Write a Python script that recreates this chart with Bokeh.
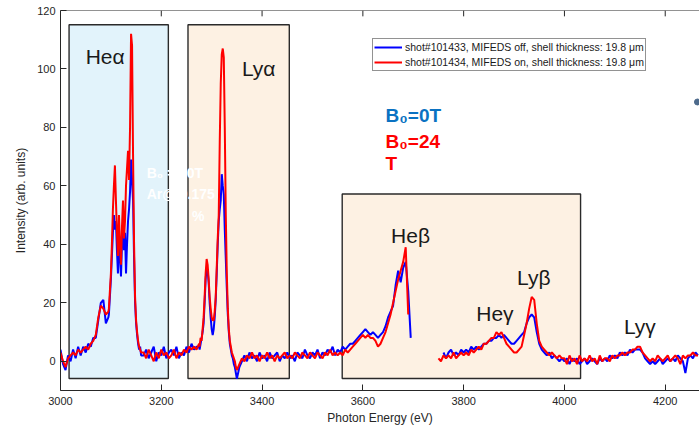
import numpy as np
from bokeh.plotting import figure
from bokeh.models import Range1d, Label, Legend, LegendItem, FixedTicker, ColumnDataSource, Span
from bokeh.embed import file_html
from bokeh.resources import INLINE

# ---------------- data ----------------
X_TICKS = [3000, 3200, 3400, 3600, 3800, 4000, 4200]
Y_TICKS = [0, 20, 40, 60, 80, 100, 120]

# energy grids of the spectrum segments (eV)
E_A = np.arange(3000, 3096, 5)
E_B = np.arange(3096, 3161, 2)
E_C = np.arange(3165, 3276, 5)
E_D = np.arange(3276, 3351, 2)
E_E = np.arange(3355, 3696, 5)
E_F = np.arange(3750, 4266, 5)

nan = float("nan")

RED_A = [3, 0, -2, 1, 2, 3, 2, 4, 3, 4, 5, 4, 6, 7, 9, 15, 19, 18, 16, 17]
BLUE_A = [4, -1, -3, 2, 0, 4, 1, 5, 2, 5, 3, 6, 5, 8, 8, 14, 20, 21, 13, 15]

RED_B = [18, 24, 30, 40, 52, 60, 67, 55, 44, 36, 50, 40, 33, 46, 55, 42, 48, 60, 66, 72,
         62, 80, 112, 108, 70, 40, 22, 14, 10, 7, 5, 4, 3]
BLUE_B = [16, 22, 28, 36, 44, 50, 45, 48, 38, 30, 42, 36, 29, 40, 45, 38, 44, 30, 40, 48,
          52, 58, 69, 62, 55, 35, 20, 13, 9, 6, 4, 5, 2]

RED_C = [3, 1, 4, 2, 0, 3, 1, 4, 2, 3, 1, 2, 4, 1, 3, 2, 4, 3, 5, 4, 5, 4, 6]
BLUE_C = [2, 4, 1, 3, 5, 0, 3, 2, 5, 1, 3, 4, 2, 5, 1, 3, 2, 5, 3, 6, 4, 5, 5]

RED_D = [5, 8, 7, 11, 15, 22, 30, 35, 33, 28, 22, 18, 15, 14, 14, 17, 22, 32, 42, 50,
         75, 95, 105, 107, 104, 80, 50, 30, 18, 11, 7, 5, 3, 2, 1, 0, -2, -3]
BLUE_D = [4, 6, 8, 10, 13, 20, 28, 32, 31, 27, 20, 15, 11, 9, 11, 15, 21, 30, 40, 48,
          52, 55, 64, 60, 57, 45, 35, 25, 16, 10, 6, 4, 2, 1, -1, -2, -4, -6]

RED_E = [-1, 1, 0, 2, 1, 3, 1, 2, 0, 2,
         1, 3, 1, 2, 0, 2, 1, 2, 3, 1,
         2, 1, 3, 2, 1, 3, 2, 1, 3, 2,
         1, 3, 2, 1, 3, 2, 4, 2, 3, 2,
         3, 2, 4, 3, 4, 5, 6, 7, 8, 9,
         8, 9, 8, 8, 7, 5, 6, 8, 10, 13,
         16, 20, 24, 28, 31, 34, 39, 16, nan]
BLUE_E = [-2, 0, 2, 0, 3, 1, 2, 0, 3, 1,
          2, 0, 3, 1, 2, 3, 0, 2, 1, 3,
          1, 2, 0, 3, 2, 1, 4, 2, 1, 3,
          2, 4, 1, 3, 2, 4, 3, 5, 2, 4,
          3, 5, 4, 5, 6, 6, 7, 8, 9, 10,
          11, 10, 9, 10, 9, 8, 9, 10, 12, 15,
          17, 19, 26, 31, 27, 32, 34, 24, 8]

RED_F = [1, 0, 2, 1, 2, 1, 3, 1, 2, 3,
         2, 3, 2, 4, 3, 4, 5, 4, 6, 6,
         7, 8, 8, 10, 9, 10, 8, 6, 5, 4,
         3, 3, 4, 5, 9, 13, 18, 22, 21, 13,
         7, 5, 4, 3, 2, 3, 2, 1, 2, 1,
         1, -1, 2, 0, 1, -1, 2, 0, 1, 0,
         2, 0, 1, -1, 2, 0, 1, 1, 0, 2,
         1, 2, 2, 3, 2, 3, 3, 4, 4, 5,
         5, 3, 2, 1, 0, 1, 0, 2, 1, 0,
         1, 2, 0, 1, 2, 1, -1, 2, 1, 2,
         2, 3, 2, 2]
BLUE_F = [nan, nan, 3, 1, 3, 4, 2, 3, 2, 4,
          3, 4, 3, 5, 4, 5, 4, 5, 6, 6,
          7, 7, 8, 8, 9, 8, 9, 8, 7, 6,
          6, 7, 8, 9, 10, 13, 15, 16, 15, 10,
          6, 4, 3, 2, 3, 1, 2, 1, 0, 1,
          0, 1, -1, 1, 0, 1, -1, 0, 1, -1,
          0, 1, 0, -1, 1, 0, 1, 0, 2, 1,
          2, 1, 3, 2, 3, 2, 4, 3, 4, 4,
          4, 3, 1, 0, -1, 0, -1, 0, 1, -1,
          0, 1, 0, 1, 0, 2, 1, 0, -4, 1,
          2, 1, 3, 2]

SERIES_LABELS = ["shot#101433, MIFEDS off, shell thickness: 19.8 \u03bcm",
                 "shot#101434, MIFEDS on, shell thickness: 19.8 \u03bcm"]

# shaded line-group boxes
BOX_LEFT = [3017, 3253, 3559]
BOX_RIGHT = [3214, 3454, 4032]
BOX_TOP = [115.1, 115.1, 57.2]
BOX_BOTTOM = [-5.9, -5.9, -5.9]
BOX_FILL = ["#e2f3fb", "#fdf1e3", "#fdf1e3"]

LINE_NAMES = ["He\u03b1", "Ly\u03b1", "He\u03b2", "He\u03b3", "Ly\u03b2", "Ly\u03b3"]
LINE_X = [3050, 3360, 3656, 3825, 3906, 4118]
LINE_Y = [104.3, 100.0, 43.0, 16.4, 28.6, 11.9]

# ---------------- assemble ----------------
energy = np.concatenate([E_A, E_B, E_C, E_D, E_E, [3722], E_F]).astype(float)
red = np.array(RED_A + RED_B + RED_C + RED_D + RED_E + [nan] + RED_F, dtype=float)
blue = np.array(BLUE_A + BLUE_B + BLUE_C + BLUE_D + BLUE_E + [nan] + BLUE_F, dtype=float)

FONT = "Liberation Sans"
AX = "#262626"
Y0, Y1 = -10, 120

p = figure(width=699, height=430, x_range=Range1d(3000, 4268), y_range=Range1d(Y0, Y1),
           output_backend="svg", toolbar_location=None,
           min_border_left=60, min_border_right=0, min_border_top=10, min_border_bottom=40)
p.outline_line_color = None
p.grid.visible = False
p.background_fill_color = "white"
p.border_fill_color = "white"

for ax in (p.xaxis[0], p.yaxis[0]):
    ax.major_tick_in = 6
    ax.major_tick_out = 0
    ax.minor_tick_line_color = None
    ax.axis_line_color = AX
    ax.major_tick_line_color = AX
    ax.major_label_text_font = FONT
    ax.major_label_text_font_size = "11px"
    ax.major_label_text_color = AX
    ax.axis_label_text_font = FONT
    ax.axis_label_text_font_size = "12px"
    ax.axis_label_text_font_style = "normal"
    ax.axis_label_text_color = AX
p.xaxis[0].ticker = FixedTicker(ticks=X_TICKS)
p.yaxis[0].ticker = FixedTicker(ticks=Y_TICKS)
p.xaxis[0].axis_label = "Photon Energy (eV)"
p.yaxis[0].axis_label = "Intensity (arb. units)"
p.xaxis[0].major_label_standoff = 6
p.xaxis[0].axis_label_standoff = 3
p.yaxis[0].major_label_standoff = 5
p.yaxis[0].axis_label_standoff = 6

# top box edge with inward ticks (MATLAB-style box)
p.add_layout(Span(location=Y1, dimension="width", line_color=AX, line_width=1))
p.segment(x0=X_TICKS, x1=X_TICKS, y0=[Y1] * len(X_TICKS), y1=[Y1 - 2.0] * len(X_TICKS),
          line_color=AX, line_width=1)

# boxes
p.quad(left=BOX_LEFT, right=BOX_RIGHT, top=BOX_TOP, bottom=BOX_BOTTOM,
       fill_color=BOX_FILL, line_color="#2a2a2a", line_width=1.4)

# white hidden annotation
for txt, x, y in [("B\u2080 = 10T", 3171, 64.4), ("Ar@ 0.175", 3171, 57.1), ("%", 3261, 49.7)]:
    p.add_layout(Label(x=x, y=y, text=txt, text_font=FONT, text_font_size="14px",
                       text_font_style="bold", text_color="white", text_baseline="alphabetic"))

src = ColumnDataSource(dict(e=energy, red=red, blue=blue))
rb = p.line("e", "blue", source=src, line_color="#0000ff", line_width=2)
rr = p.line("e", "red", source=src, line_color="#ff0000", line_width=2)

for name, x, y in zip(LINE_NAMES, LINE_X, LINE_Y):
    p.add_layout(Label(x=x, y=y, text=name, text_font=FONT, text_font_size="21px",
                       text_color="#1a1a1a", text_baseline="alphabetic"))

for txt, y, col in [("B\u2080=0T", 84.2, "#0a72c2"), ("B\u2080=24", 75.2, "#ff0000"), ("T", 67.8, "#ff0000")]:
    p.add_layout(Label(x=3645, y=y, text=txt, text_font=FONT, text_font_size="19px",
                       text_font_style="bold", text_color=col, text_baseline="alphabetic"))

p.scatter(x=[4264], y=[88.7], size=6, color="#4e6b8c")

legend = Legend(items=[LegendItem(label=SERIES_LABELS[0], renderers=[rb]),
                       LegendItem(label=SERIES_LABELS[1], renderers=[rr])],
                location=(312, 319), label_text_font=FONT, label_text_font_size="10.5px",
                label_text_color="#1a1a1a", glyph_width=28, glyph_height=14, label_height=14,
                label_standoff=3, spacing=1, padding=1, margin=0,
                border_line_color=AX, border_line_width=1, background_fill_alpha=1)
p.add_layout(legend)

open("out.html", "w").write(file_html(p, INLINE))
